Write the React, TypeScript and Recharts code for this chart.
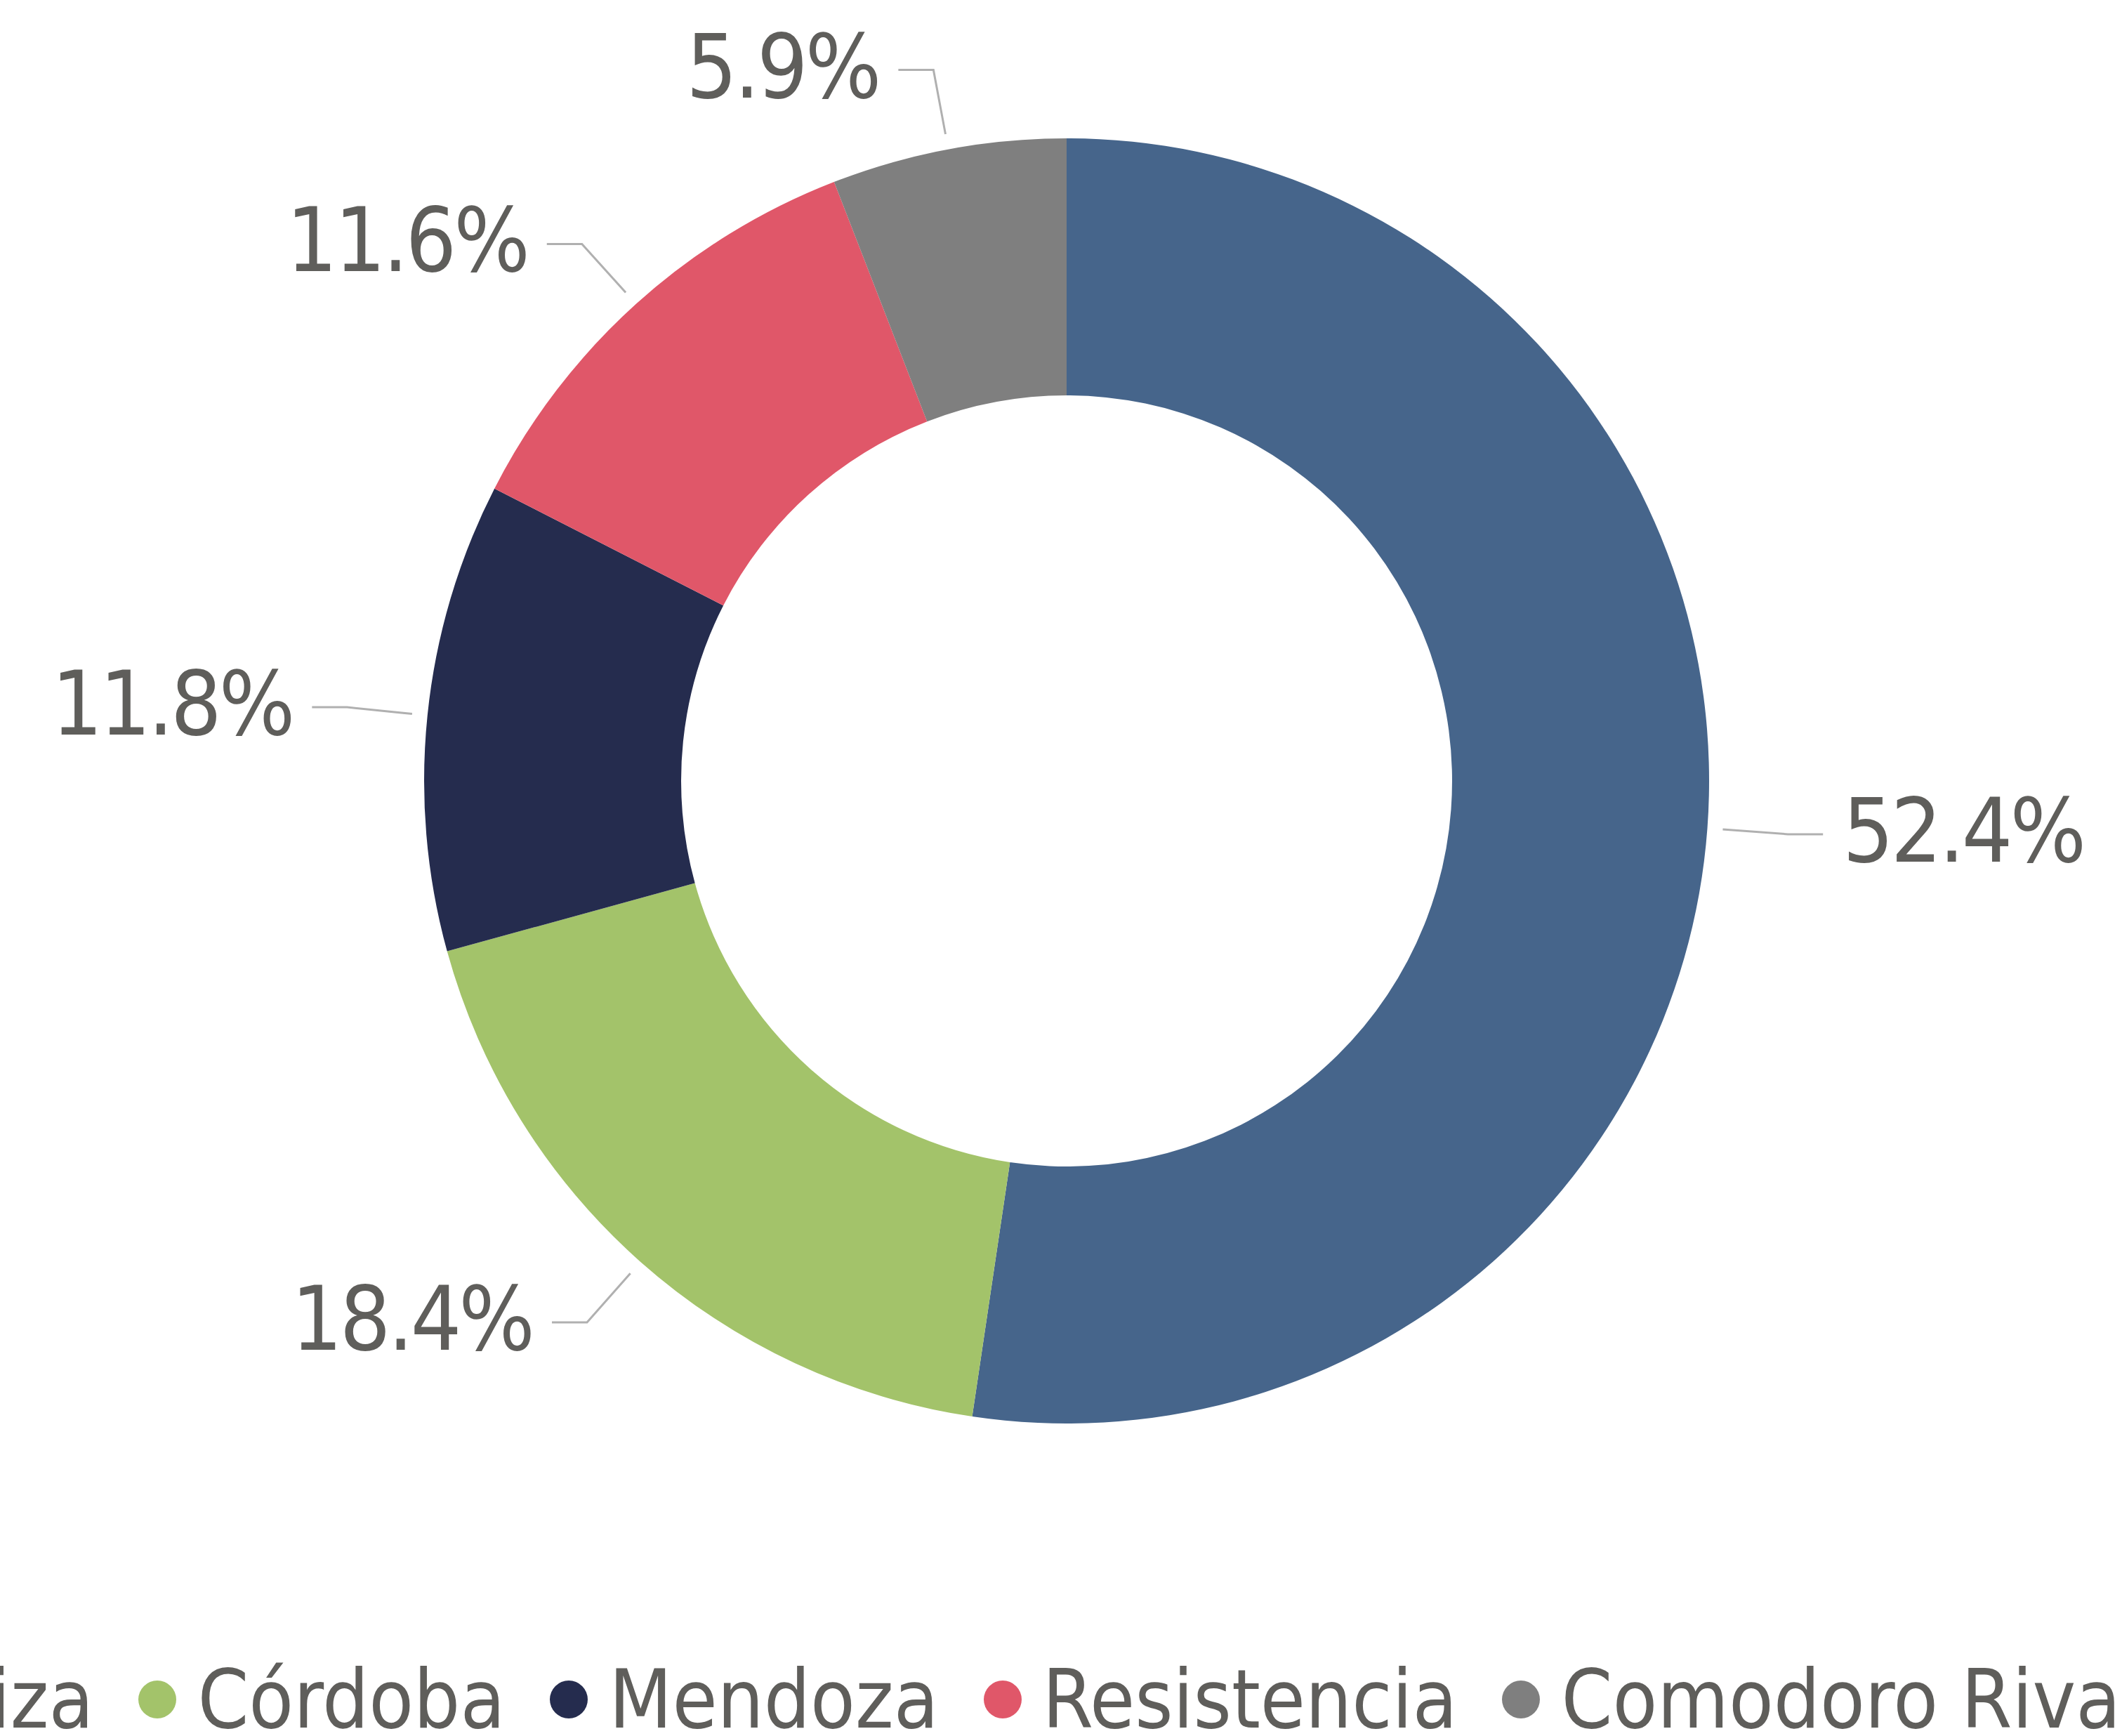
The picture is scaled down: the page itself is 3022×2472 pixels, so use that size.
import React from "react";
import { PieChart, Pie, Cell, Legend } from "recharts";

const cities = ["Ezeiza", "Córdoba", "Mendoza", "Resistencia", "Comodoro Rivadavia"];
const shares = [52.4, 18.4, 11.8, 11.6, 5.9];
const colors = ["#46658b", "#a3c36a", "#252c4e", "#e05769", "#7f7f7f"];

const data = cities.map((name, i) => ({ name, value: shares[i] }));

const FONT = "'DejaVu Sans Condensed', 'DejaVu Sans', sans-serif";
const TEXT = "#5f5e5b";
const RADIAN = Math.PI / 180;

function renderLabel(props: any) {
  const { cx, cy, midAngle, outerRadius, value } = props;
  const cos = Math.cos(-midAngle * RADIAN);
  const sin = Math.sin(-midAngle * RADIAN);
  const sx = cx + (outerRadius + 22) * cos;
  const sy = cy + (outerRadius + 22) * sin;
  const mx = cx + (outerRadius + 115) * cos;
  const my = cy + (outerRadius + 115) * sin;
  const right = cos >= 0;
  const dir = right ? 1 : -1;
  const ex = mx + dir * 50;
  const tx = ex + dir * 28;
  return (
    <g>
      <polyline
        points={`${sx},${sy} ${mx},${my} ${ex},${my}`}
        stroke="#b0b0b0"
        strokeWidth={3}
        fill="none"
      />
      <text
        x={tx}
        y={my + 39}
        textAnchor={right ? "start" : "end"}
        fill={TEXT}
        fontFamily={FONT}
        fontSize={127}
        letterSpacing={-4}
      >
        {`${Number(value).toFixed(1)}%`}
      </text>
    </g>
  );
}

function LegendContent() {
  return (
    <div
      style={{
        display: "flex",
        justifyContent: "center",
        alignItems: "center",
        whiteSpace: "nowrap",
        width: 3022,
        fontFamily: FONT,
        fontSize: 116,
        color: TEXT,
        lineHeight: 1,
      }}
    >
      {cities.map((c, i) => (
        <div
          key={c}
          style={{ display: "flex", alignItems: "center", marginRight: i < cities.length - 1 ? 64 : 0, flexShrink: 0 }}
        >
          <span
            style={{
              display: "inline-block",
              width: 54,
              height: 54,
              borderRadius: "50%",
              background: colors[i],
              marginRight: 30,
              flexShrink: 0,
            }}
          />
          <span>{c}</span>
        </div>
      ))}
    </div>
  );
}

export default function App() {
  return (
    <div
      style={{
        position: "absolute",
        left: 0,
        top: 0,
        width: 3022,
        height: 2472,
        overflow: "hidden",
        background: "#fff",
      }}
    >
      <PieChart width={3022} height={2472} margin={{ top: 0, right: 0, bottom: 0, left: 0 }}>
        <Pie
          data={data}
          dataKey="value"
          nameKey="name"
          cx={1519}
          cy={1112}
          innerRadius={549}
          outerRadius={915}
          startAngle={90}
          endAngle={-270}
          stroke="none"
          label={renderLabel}
          labelLine={false}
          isAnimationActive={false}
        >
          {data.map((d, i) => (
            <Cell key={d.name} fill={colors[i]} />
          ))}
        </Pie>
        <Legend
          content={<LegendContent />}
          wrapperStyle={{ position: "absolute", left: 0, top: 2362, width: 3022, height: 120 }}
        />
      </PieChart>
    </div>
  );
}
